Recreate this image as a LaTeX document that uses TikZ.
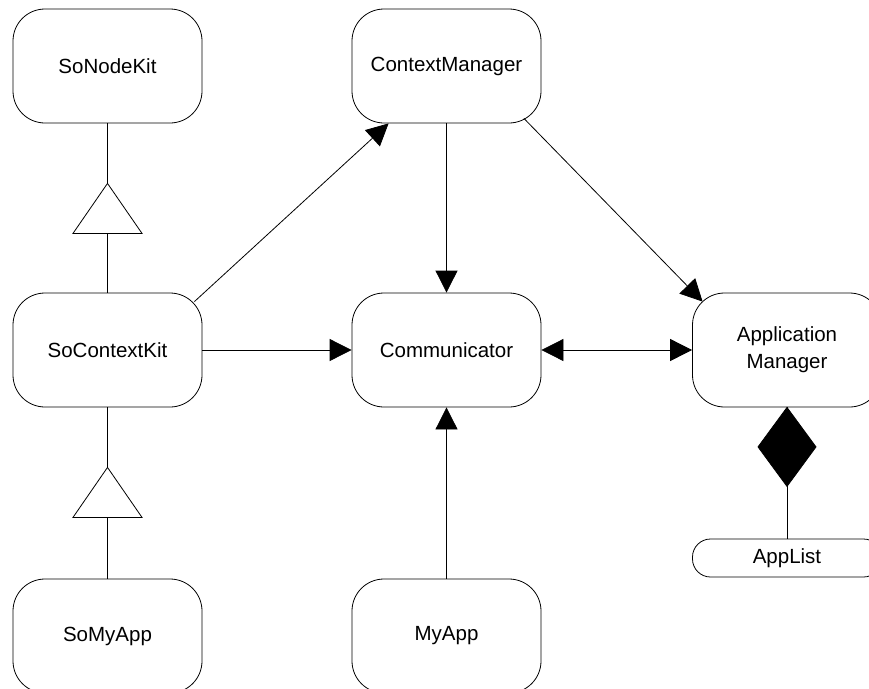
\documentclass[tikz,border=0pt]{standalone}
\usepackage{fontspec}
\setmainfont{Liberation Sans}
\usetikzlibrary{arrows.meta,calc}
\begin{document}
\begin{tikzpicture}[x=1pt,y=1pt,
  cls/.style={draw, line width=0.8pt, rounded corners=32pt,
    minimum width=189pt, minimum height=114pt, inner sep=0pt,
    align=center, font=\fontsize{20.5}{27}\selectfont},
  attr/.style={cls, minimum height=38pt, rounded corners=18pt},
  link/.style={line width=0.8pt},
  arr/.style={link, -{Triangle[length=22pt,width=22pt]}},
  dblarr/.style={link, {Triangle[length=22pt,width=22pt]}-{Triangle[length=22pt,width=22pt]}},
  generalize/.style={draw, line width=0.8pt, fill=white},
  compose/.style={draw, line width=0.8pt, fill=black},
]
\useasboundingbox (0,0) rectangle (869,-688);
\clip (0,0) rectangle (869,-688);

% classes
\node[cls] (snk)  at (107.5,-66)  {SoNodeKit};
\node[cls] (cm)   at (446.5,-66)  {ContextManager};
\node[cls] (sck)  at (107.5,-350) {SoContextKit};
\node[cls] (comm) at (446.5,-350) {Communicator};
\node[cls] (am)   at (787,-350)   {Application\\Manager};
\node[cls] (smy)  at (107.5,-636) {SoMyApp};
\node[cls] (my)   at (446.5,-636) {MyApp};
\node[attr] (al)  at (787,-558)   {AppList};

% inheritance: SoContextKit -> SoNodeKit, SoMyApp -> SoContextKit
\draw[link] (sck.north) -- (snk.south);
\draw[generalize] ($(snk.south)+(0,-60)$) -- ++(34.5,-50) -- ++(-69,0) -- cycle;
\draw[link] (smy.north) -- (sck.south);
\draw[generalize] ($(sck.south)+(0,-60)$) -- ++(34.5,-50) -- ++(-69,0) -- cycle;

% associations
\draw[arr] ([shift={(-8,-9)}]sck.north east) -- ([shift={(37,0)}]cm.south west);
\draw[arr] (cm.south) -- (comm.north);
\draw[arr] ([shift={(-17.5,5)}]cm.south east) -- ([shift={(10.5,-9)}]am.north west);
\draw[arr] (sck.east) -- (comm.west);
\draw[dblarr] (comm.east) -- (am.west);
\draw[arr] (my.north) -- (comm.south);

% composition: Application Manager owns AppList
\draw[link] (al.north) -- (am.south);
\draw[compose] (am.south) -- ++(29,-39.5) -- ++(-29,-39.5) -- ++(-29,39.5) -- cycle;
\end{tikzpicture}
\end{document}
